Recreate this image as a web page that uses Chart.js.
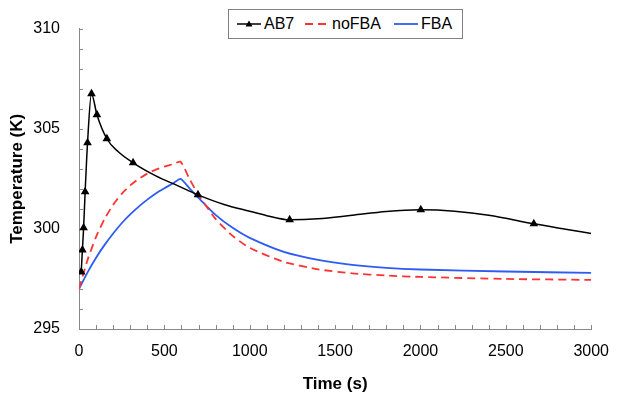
<!DOCTYPE html>
<html><head><meta charset="utf-8">
<script src="https://cdn.jsdelivr.net/npm/chart.js@4.4.1/dist/chart.umd.min.js"></script>
<style>
body{margin:0;background:#fff}
#wrap{position:relative;width:622px;height:396px}
#legend{position:absolute;left:228px;top:9px;width:235px;height:30px;border:1px solid #808080;box-sizing:border-box;background:#fff;
 font:16px "Liberation Sans",Arial,sans-serif;color:#000}
#legend .it{position:absolute;top:0;height:28px;display:flex;align-items:center;white-space:nowrap}
#legend svg{margin-right:3px}
</style></head><body>
<div id="wrap"><canvas id="c" width="622" height="396"></canvas>
<div id="legend"></div></div>
<script>
// ---- data ----
const ab7MarkerTime = [13, 20, 27, 36, 50, 73, 105, 163, 317, 697, 1234, 2002, 2664];
const ab7MarkerTemp = [297.85, 298.95, 300.05, 301.85, 304.3, 306.75, 305.7, 304.5, 303.3, 301.7, 300.45, 300.95, 300.25];
const ab7CurveTime = [230, 450, 580, 850, 1000, 1100, 1400, 1600, 1800, 2200, 2400, 2850, 3000];
const ab7CurveTemp = [303.85, 302.65, 302.15, 301.22, 300.88, 300.66, 300.5, 300.68, 300.87, 300.88, 300.68, 299.98, 299.77];

const noFBATime = [0, 50, 100, 150, 200, 250, 300, 350, 400, 450, 500, 550, 595, 650, 700, 800, 900, 1000, 1200, 1400, 1600, 1800, 2000, 2500, 3000];
const noFBATemp = [297.0, 298.45, 299.6, 300.5, 301.2, 301.75, 302.17, 302.5, 302.76, 302.96, 303.11, 303.23, 303.35, 302.45, 301.7, 300.5, 299.65, 299.05, 298.35, 297.98, 297.78, 297.67, 297.6, 297.5, 297.45];

const fbaTime = [0, 50, 100, 150, 200, 250, 300, 350, 400, 450, 500, 550, 595, 650, 700, 800, 900, 1000, 1200, 1400, 1600, 1800, 2000, 2500, 3000];
const fbaTemp = [297.0, 297.83, 298.56, 299.2, 299.77, 300.28, 300.72, 301.11, 301.46, 301.77, 302.03, 302.27, 302.5, 302.0, 301.55, 300.7, 300.05, 299.55, 298.85, 298.45, 298.2, 298.05, 297.97, 297.87, 297.8];

const xTicks = [0, 500, 1000, 1500, 2000, 2500, 3000];
const yTicks = [295, 300, 305, 310];
const xMinorStep = 100, yMinorStep = 1;
const seriesNames = ['AB7', 'noFBA', 'FBA'];
const axisTitles = {x: 'Time (s)', y: 'Temperature (K)'};

// ---- build ----
const markerSet = new Set(ab7MarkerTime);
const ab7 = ab7MarkerTime.map((t, i) => ({x: t, y: ab7MarkerTemp[i]}))
  .concat(ab7CurveTime.map((t, i) => ({x: t, y: ab7CurveTemp[i]})))
  .sort((a, b) => a.x - b.x);
const toXY = (ts, vs) => ts.map((t, i) => ({x: t, y: vs[i]}));

const FONT = '"Liberation Sans", Arial, sans-serif';
const AXIS = '#888';

const minorTicks = {
  id: 'minorTicks',
  beforeDatasetsDraw(chart) {
    const {ctx, scales: {x, y}, chartArea: a} = chart;
    ctx.save();
    ctx.strokeStyle = AXIS; ctx.lineWidth = 1; ctx.beginPath();
    for (let t = x.min; t <= x.max; t += xMinorStep) {
      const px = Math.round(x.getPixelForValue(t)) + 0.5;
      ctx.moveTo(px, a.bottom); ctx.lineTo(px, a.bottom - 4);
    }
    for (let v = y.min; v <= y.max; v += yMinorStep) {
      const py = Math.round(y.getPixelForValue(v)) + 0.5;
      ctx.moveTo(a.left, py); ctx.lineTo(a.left + 4, py);
    }
    ctx.stroke(); ctx.restore();
  }
};

const colors = ['#000000', '#ff3333', '#2e5cf2'];
new Chart(document.getElementById('c'), {
  type: 'line',
  data: {datasets: [
    {label: seriesNames[0], data: ab7, borderColor: colors[0], backgroundColor: colors[0], borderWidth: 1.5,
     cubicInterpolationMode: 'monotone', pointStyle: 'triangle',
     pointRadius: ctx => markerSet.has(ctx.raw && ctx.raw.x) ? 3.5 : 0, pointHoverRadius: 0},
    {label: seriesNames[1], data: toXY(noFBATime, noFBATemp), borderColor: colors[1], borderWidth: 1.8,
     borderDash: [8, 5], pointRadius: 0, tension: 0.2},
    {label: seriesNames[2], data: toXY(fbaTime, fbaTemp), borderColor: colors[2], borderWidth: 1.8,
     pointRadius: 0, tension: 0.2}
  ]},
  options: {
    responsive: false, animation: false, events: [],
    layout: {padding: {top: 23, right: 22, left: 0, bottom: 0}},
    plugins: {legend: {display: false}, tooltip: {enabled: false}},
    scales: {
      x: {type: 'linear', min: 0, max: 3000,
        afterBuildTicks: s => { s.ticks = xTicks.map(v => ({value: v})); },
        afterFit: s => { s.height = 67; },
        grid: {drawOnChartArea: false, drawTicks: false},
        border: {display: true, color: AXIS, width: 1},
        ticks: {padding: 13, color: '#000', font: {family: FONT, size: 16}, maxRotation: 0, callback: v => String(v)},
        title: {display: true, text: axisTitles.x, color: '#000', font: {family: FONT, size: 17, weight: 'bold'}, padding: {top: 0, bottom: 1}}},
      y: {min: 295, max: 310,
        afterBuildTicks: s => { s.ticks = yTicks.map(v => ({value: v})); },
        afterFit: s => { s.width = 79; },
        grid: {drawOnChartArea: false, drawTicks: false},
        border: {display: true, color: AXIS, width: 1},
        ticks: {padding: 19, color: '#000', font: {family: FONT, size: 16}, callback: v => String(v)},
        title: {display: true, text: axisTitles.y, color: '#000', font: {family: FONT, size: 17, weight: 'bold'}, padding: {top: 7, bottom: 0}}}
    }
  },
  plugins: [minorTicks]
});

// legend
const lg = document.getElementById('legend');
const samples = [
  '<svg width="24" height="10"><line x1="0" y1="5" x2="24" y2="5" stroke="#000" stroke-width="1.5"/><polygon points="12,1.5 15.5,7.5 8.5,7.5" fill="#000"/></svg>',
  '<svg width="24" height="10"><line x1="0" y1="5" x2="24" y2="5" stroke="#ff3333" stroke-width="1.8" stroke-dasharray="8,5"/></svg>',
  '<svg width="24" height="10"><line x1="0" y1="5" x2="24" y2="5" stroke="#2e5cf2" stroke-width="1.8"/></svg>'
];
const legendLeft = [8, 76, 165];
seriesNames.forEach((n, i) => {
  const d = document.createElement('div'); d.className = 'it';
  d.style.left = legendLeft[i] + 'px';
  d.innerHTML = samples[i] + '<span>' + n + '</span>';
  lg.appendChild(d);
});
</script></body></html>
